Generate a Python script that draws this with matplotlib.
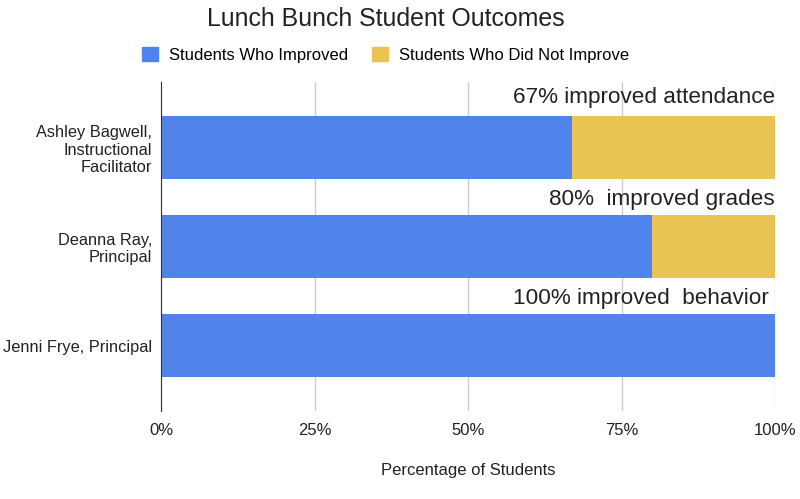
import matplotlib.pyplot as plt
from matplotlib.patches import Patch

plt.rcParams['font.family'] = ['Liberation Sans', 'DejaVu Sans']

people = ["Ashley Bagwell,\nInstructional\nFacilitator", "Deanna Ray,\nPrincipal", "Jenni Frye, Principal"]
improved = [67, 80, 100]
not_improved = [33, 20, 0]
notes = ["67% improved attendance", "80%  improved grades", "100% improved  behavior "]

blue = "#5184ea"
yellow = "#e9c353"
txt = "#222222"

fig = plt.figure(figsize=(8, 4.99), dpi=100)
ax = fig.add_axes([0.20125, 0.1764, 0.7675, 0.6593])

ys = list(range(len(people)))
ax.barh(ys, improved, height=0.64, color=blue, zorder=2)
ax.barh(ys, not_improved, left=improved, height=0.64, color=yellow, zorder=2)

# notes sit just above each bar, flush right
offs = [-0.5, -0.47, -0.48]
for y, note, o in zip(ys, notes, offs):
    ax.text(100, y + o, note, ha="right", va="center", fontsize=16.2, color=txt, zorder=3)

ax.set_xlim(0, 100)
ax.set_ylim(2.66, -0.66)
ax.set_yticks(ys)
ax.set_yticklabels(people, fontsize=11.8, color=txt)
ax.set_xticks([0, 25, 50, 75, 100])
ax.set_xticklabels(["0%", "25%", "50%", "75%", "100%"], fontsize=12, color=txt)
ax.tick_params(axis="y", length=0, pad=6.5)
ax.tick_params(axis="x", length=0, pad=9)
ax.grid(axis="x", color="#cccccc", linewidth=1, zorder=0)
for s in ["top", "right", "bottom"]:
    ax.spines[s].set_visible(False)
ax.spines["left"].set_color("#333333")
ax.spines["left"].set_zorder(4)
ax.set_xlabel("Percentage of Students", fontsize=12, color=txt, labelpad=18)

fig.text(0.4825, 0.948, "Lunch Bunch Student Outcomes", ha="center", va="baseline", fontsize=17.9, color=txt)
handles = [Patch(color=blue), Patch(color=yellow)]
fig.legend(handles, ["Students Who Improved", "Students Who Did Not Improve"], loc="center",
           bbox_to_anchor=(0.482, 0.89), ncol=2, frameon=False, fontsize=12,
           handlelength=0.96, handleheight=0.96, columnspacing=1.44, handletextpad=0.66)

fig.savefig("out.png", dpi=100)
